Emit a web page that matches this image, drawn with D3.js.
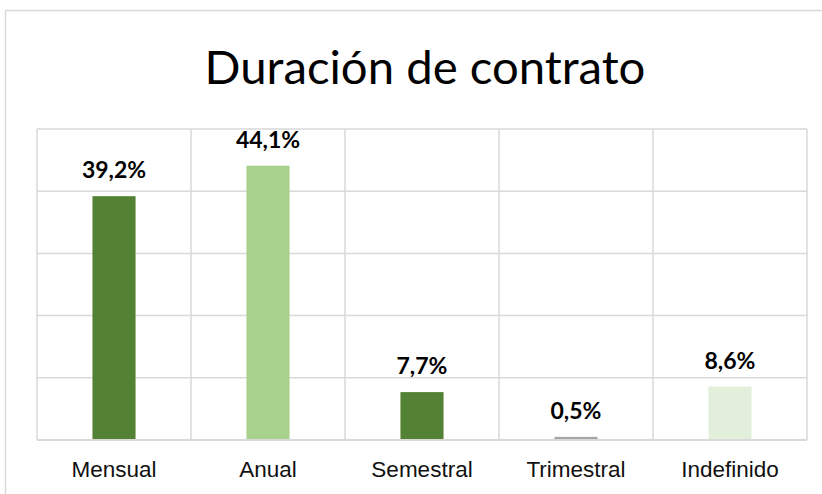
<!DOCTYPE html>
<html>
<head>
<meta charset="utf-8">
<script src="https://cdn.jsdelivr.net/npm/d3@7"></script>
<style>
  html, body { margin: 0; padding: 0; background: #fff; }
  svg { display: block; }
</style>
</head>
<body>
<svg id="chart" width="822" height="494"></svg>
<script>
// Contract duration shares (percent)
const categories = ["Mensual", "Anual", "Semestral", "Trimestral", "Indefinido"];
const values = [39.2, 44.1, 7.7, 0.5, 8.6];
const valueLabels = ["39,2%", "44,1%", "7,7%", "0,5%", "8,6%"];
const barColors = ["#548235", "#A9D18E", "#548235", "#A5A5A5", "#E2EFDA"];
const yTicks = [0, 10, 20, 30, 40, 50];
const title = "Duración de contrato";

const svg = d3.select("#chart");
const plot = { left: 37, right: 807, top: 129, bottom: 440 };

// chart frame
svg.append("rect")
  .attr("x", 5.5).attr("y", 10.5)
  .attr("width", 840).attr("height", 520)
  .attr("fill", "#fff")
  .attr("stroke", "#d9d9d9")
  .attr("stroke-width", 1.5);

const x = d3.scaleBand().domain(categories).range([plot.left, plot.right]).padding(0);
const y = d3.scaleLinear().domain([0, 50]).range([plot.bottom, plot.top]);

const grid = svg.append("g");
// horizontal gridlines
grid.selectAll("line.h").data(yTicks).join("line")
  .attr("class", "h")
  .attr("x1", plot.left).attr("x2", plot.right)
  .attr("y1", d => y(d)).attr("y2", d => y(d))
  .attr("stroke", "#d9d9d9").attr("stroke-width", 1.5);
// vertical gridlines at category boundaries
const bounds = categories.map(c => x(c)).concat([x(categories[categories.length - 1]) + x.bandwidth()]);
grid.selectAll("line.v").data(bounds).join("line")
  .attr("class", "v")
  .attr("x1", d => d).attr("x2", d => d)
  .attr("y1", plot.top).attr("y2", plot.bottom)
  .attr("stroke", "#d9d9d9").attr("stroke-width", 1.5);

// bars
const barW = x.bandwidth() * 0.28;
svg.append("g").selectAll("rect").data(values).join("rect")
  .attr("x", (d, i) => x(categories[i]) + (x.bandwidth() - barW) / 2)
  .attr("y", d => y(d))
  .attr("width", barW)
  .attr("height", d => y(0) - y(d))
  .attr("fill", (d, i) => barColors[i]);

// baseline
svg.append("line")
  .attr("x1", plot.left).attr("x2", plot.right)
  .attr("y1", y(0)).attr("y2", y(0))
  .attr("stroke", "#d9d9d9").attr("stroke-width", 2);

// value labels
svg.append("g").selectAll("text").data(values).join("text")
  .attr("x", (d, i) => x(categories[i]) + x.bandwidth() / 2)
  .attr("y", d => y(d) - 18)
  .attr("text-anchor", "middle")
  .attr("font-family", "Lato, 'Open Sans', sans-serif")
  .attr("font-weight", "bold")
  .attr("font-size", 23)
  .attr("fill", "#000")
  .text((d, i) => valueLabels[i]);

// category axis
const xAxis = svg.append("g")
  .attr("transform", `translate(0,${plot.bottom})`)
  .call(d3.axisBottom(x).tickSize(0).tickPadding(21));
xAxis.select(".domain").remove();
xAxis.selectAll("text")
  .attr("font-family", "'Liberation Sans', Arial, sans-serif")
  .attr("font-size", 22.5)
  .attr("fill", "#111");

// title
const t = svg.append("text")
  .attr("x", (plot.left + plot.right) / 2 + 3)
  .attr("y", 84)
  .attr("text-anchor", "middle")
  .attr("font-family", "Lato, 'Open Sans', sans-serif")
  .attr("font-weight", 400)
  .attr("font-size", 46)
  .attr("fill", "#000")
  .text(title);
// size the title to its intended width
const tw = t.node().getComputedTextLength();
t.attr("font-size", 46 * 441 / tw);
</script>
</body>
</html>
